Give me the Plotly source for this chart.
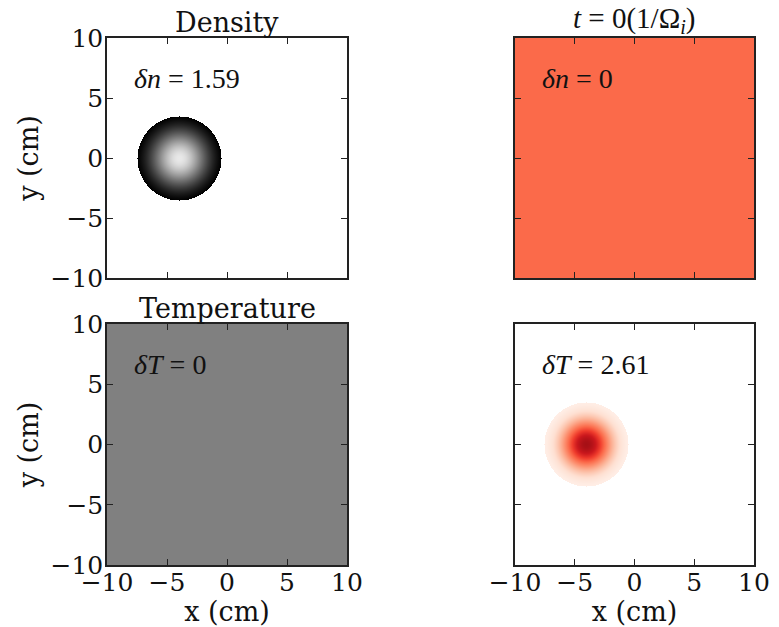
import numpy as np
import plotly.graph_objects as go

# ---- data ----
x_ticks = [-10, -5, 0, 5, 10]
y_ticks = [-10, -5, 0, 5, 10]
grid_x = np.linspace(-10, 10, 241)
grid_y = np.linspace(-10, 10, 241)

blob_center = [-4.0, 0.0]      # cm
blob_radius = 3.5              # cm
delta_n = 1.59
delta_T = 2.61
density_width = 2.4            # cm (gaussian width of the density bump)
temperature_width = 2.0        # cm (gaussian width of the temperature bump)

titles = ["Density", "<i>t</i> = 0(1/Ω<sub><i>i</i></sub>)", "Temperature", ""]
labels = ["<i>δn</i> = 1.59", "<i>δn</i> = 0", "<i>δT</i> = 0", "<i>δT</i> = 2.61"]

# ---- fields ----
X, Y = np.meshgrid(grid_x, grid_y)
R = np.sqrt((X - blob_center[0]) ** 2 + (Y - blob_center[1]) ** 2)
inside = R <= blob_radius

dens = np.where(inside, delta_n * np.exp(-(R / density_width) ** 2), np.nan)
temp = np.where(inside, delta_T * np.exp(-(R / temperature_width) ** 2), np.nan)
zero = np.zeros_like(X)

gray = [[0, "#000000"], [1, "#ffffff"]]
reds_hex = ["#fff5f0", "#fee0d2", "#fcbba1", "#fc9272", "#fb6a4a",
            "#ef3b2c", "#cb181d", "#a50f15", "#67000d"]
reds = [[i / 8, c] for i, c in enumerate(reds_hex)]

edge_n = delta_n * np.exp(-(blob_radius / density_width) ** 2)

fig = go.Figure()

xdom = [[107 / 779, 347 / 779], [515 / 779, 754 / 779]]
ydom = [[1 - 278 / 627, 1 - 38 / 627], [1 - 565 / 627, 1 - 324 / 627]]

panels = [
    dict(z=dens, cs=gray, zmin=edge_n, zmax=delta_n / 0.92, row=0, col=0),
    dict(z=zero, cs=reds, zmin=-1, zmax=1, row=0, col=1),
    dict(z=zero, cs=gray, zmin=-1, zmax=1, row=1, col=0),
    dict(z=temp, cs=reds, zmin=0, zmax=delta_T / 0.87, row=1, col=1),
]

font_serif = "DejaVu Serif"
math_font = "Liberation Serif"
ink = "#111"

for i, p in enumerate(panels):
    n = i + 1
    xa = "x" if n == 1 else f"x{n}"
    ya = "y" if n == 1 else f"y{n}"
    fig.add_trace(go.Heatmap(x=grid_x, y=grid_y, z=p["z"], colorscale=p["cs"],
                             zmin=p["zmin"], zmax=p["zmax"], showscale=False,
                             xaxis=xa, yaxis=ya, hoverinfo="skip"))
    r, c = p["row"], p["col"]
    axis_common = dict(range=[-10, 10], ticks="inside", ticklen=6,
                       tickcolor="#222", showline=True, linecolor="#222", linewidth=1.5,
                       mirror="allticks", showgrid=False, zeroline=False, automargin=False,
                       tickfont=dict(family=font_serif, size=25, color=ink))
    xkw = dict(axis_common, domain=xdom[c], anchor=ya, tickvals=x_ticks,
               showticklabels=(r == 1), ticklabelstandoff=-6)
    ykw = dict(axis_common, domain=ydom[r], anchor=xa, tickvals=y_ticks,
               showticklabels=(c == 0), ticklabelstandoff=-3)
    if r == 1:
        xkw["title"] = dict(text="x (cm)", font=dict(family=font_serif, size=27, color=ink), standoff=9)
    if c == 0:
        ykw["title"] = dict(text="y (cm)", font=dict(family=font_serif, size=27, color=ink), standoff=4)
    fig.layout[("xaxis" if n == 1 else f"xaxis{n}")] = xkw
    fig.layout[("yaxis" if n == 1 else f"yaxis{n}")] = ykw

    # inner label
    fig.add_annotation(x=-7.9, y=6.6, xref=xa, yref=ya, text=labels[i], showarrow=False,
                       xanchor="left", yanchor="middle",
                       font=dict(family=math_font, size=28, color=ink))
    # panel title
    if titles[i]:
        is_math = "Ω" in titles[i]
        fig.add_annotation(x=(xdom[c][0] + xdom[c][1]) / 2, y=ydom[r][1], xref="paper", yref="paper",
                           text=titles[i], showarrow=False, xanchor="center", yanchor="bottom",
                           yshift=-2,
                           font=dict(family=math_font if is_math else font_serif,
                                     size=29 if is_math else 27, color=ink))

fig.update_layout(width=779, height=627, margin=dict(l=0, r=0, t=0, b=0),
                  paper_bgcolor="white", plot_bgcolor="white", showlegend=False)

fig.write_html("out.html")
